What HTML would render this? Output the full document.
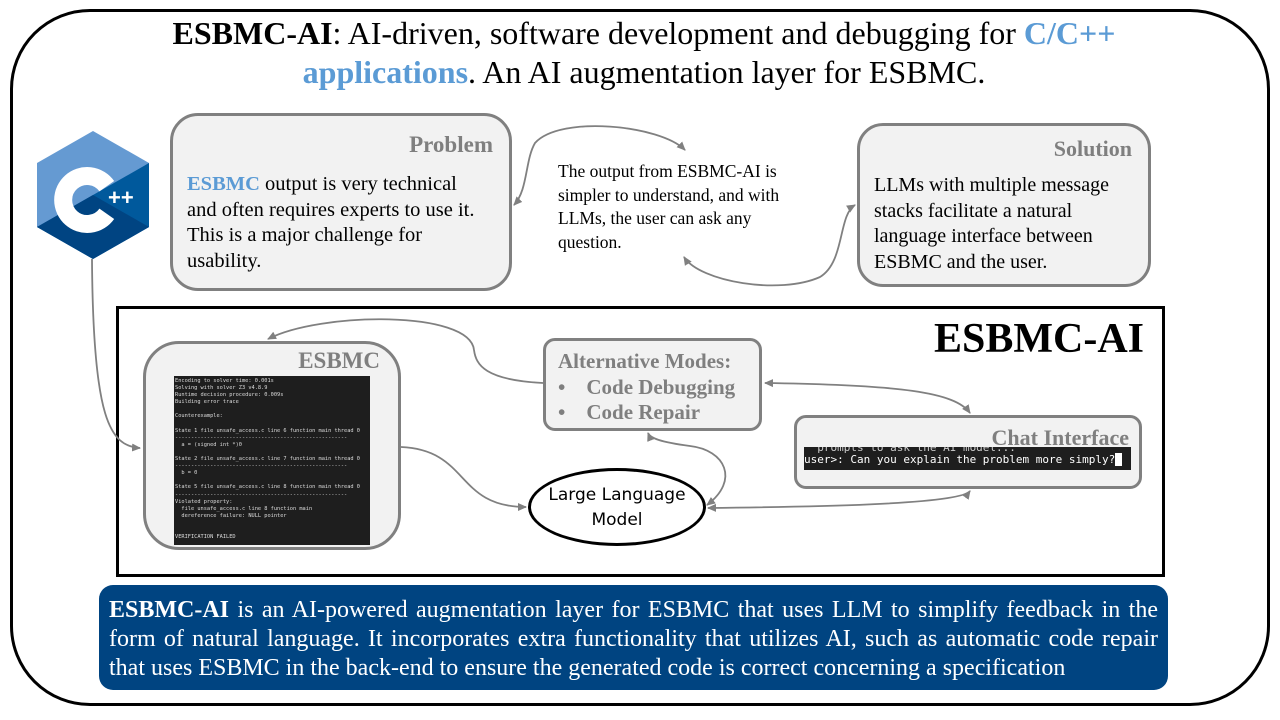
<!DOCTYPE html>
<html><head><meta charset="utf-8"><style>
*{margin:0;padding:0;box-sizing:border-box}
body{width:1280px;height:720px;background:#fff;position:relative;overflow:hidden;font-family:"Liberation Serif",serif;color:#000}
.a{position:absolute}
.box{position:absolute;background:#f2f2f2;border:3px solid #808080}
.gt{color:#7f7f7f;font-weight:bold}
.term{position:absolute;background:#1e1e1e;color:#ddd;font-family:"DejaVu Sans Mono",monospace;white-space:pre;overflow:hidden}
</style></head><body>
<div class="a" style="left:10px;top:9px;width:1260px;height:697px;border:3px solid #000;border-radius:80px"></div>
<div class="a" style="left:0;top:14px;width:1288px;text-align:center;font-size:32px;line-height:39px">
<b>ESBMC-AI</b>: AI-driven, software development and debugging for <b style="color:#5b9bd5">C/C++</b><br><b style="color:#5b9bd5">applications</b>. An AI augmentation layer for ESBMC.</div>

<svg class="a" style="left:36px;top:131px" width="114" height="128" viewBox="0 0 114 128">
<polygon points="57,0 113,32 113,96 57,128 1,96 1,32" fill="#659ad2"/>
<polygon points="113,32 113,96 57,128 1,96 57,64" fill="#00599c"/>
<polygon points="57,64 1,96 57,128 113,96" fill="#004482"/>
<path d="M70.8,55.2 A24,24 0 1 0 70.8,82.8" fill="none" stroke="#fff" stroke-width="18"/>
<text x="72" y="74" fill="#fff" font-family="Liberation Sans" font-weight="bold" font-size="22">++</text>
</svg>

<div class="box" style="left:170px;top:113px;width:342px;height:178px;border-radius:28px">
<div class="gt a" style="right:16px;top:16px;font-size:23px">Problem</div>
<div class="a" style="left:14px;top:56px;font-size:20.5px;line-height:25.5px;white-space:nowrap"><b style="color:#5b9bd5">ESBMC</b> output is very technical<br>and often requires experts to use it.<br>This is a major challenge for<br>usability.</div>
</div>
<div class="a" style="left:558px;top:160px;font-size:17.5px;line-height:23.5px;width:260px">The output from ESBMC-AI is simpler to understand, and with LLMs, the user can ask any question.</div>
<div class="box" style="left:857px;top:123px;width:294px;height:164px;border-radius:26px">
<div class="gt a" style="right:16px;top:10px;font-size:22px">Solution</div>
<div class="a" style="left:14px;top:47px;font-size:20px;line-height:25.5px;width:275px">LLMs with multiple message stacks facilitate a natural language interface between ESBMC and the user.</div>
</div>

<div class="a" style="left:116px;top:306px;width:1049px;height:271px;border:3px solid #000"></div>
<div class="a" style="right:136px;top:315px;font-size:42px;font-weight:bold">ESBMC-AI</div>

<div class="box" style="left:143px;top:341px;width:258px;height:209px;border-radius:36px">
<div class="gt a" style="right:18px;top:4px;font-size:23px">ESBMC</div>
</div>
<div class="term" style="left:174px;top:376px;width:196px;height:169px;font-size:5.3px;line-height:7.1px;padding:2px 1px">Encoding to solver time: 0.001s
Solving with solver Z3 v4.8.9
Runtime decision procedure: 0.009s
Building error trace

Counterexample:

State 1 file unsafe_access.c line 6 function main thread 0
------------------------------------------------------
  a = (signed int *)0

State 2 file unsafe_access.c line 7 function main thread 0
------------------------------------------------------
  b = 0

State 5 file unsafe_access.c line 8 function main thread 0
------------------------------------------------------
Violated property:
  file unsafe_access.c line 8 function main
  dereference failure: NULL pointer


VERIFICATION FAILED</div>

<div class="box" style="left:543px;top:338px;width:219px;height:93px;border-radius:12px">
<div class="gt a" style="left:12px;top:8px;font-size:21px;line-height:25.5px;white-space:nowrap">Alternative Modes:<br>•&nbsp;&nbsp;&nbsp;&nbsp;Code Debugging<br>•&nbsp;&nbsp;&nbsp;&nbsp;Code Repair</div>
</div>

<div class="box" style="left:794px;top:415px;width:348px;height:74px;border-radius:12px">
<div class="gt a" style="right:10px;top:7px;font-size:22px;line-height:26px">Chat Interface</div>
</div>
<div class="term" style="left:804px;top:447px;width:327px;height:23px;font-size:11px;line-height:12px;color:#fff"><div style="margin-top:-5px;color:#ccc">  prompts to ask the AI model...</div>user&gt;: Can you explain the problem more simply?<span style="background:#fff">&nbsp;</span></div>

<div class="a" style="left:528px;top:468px;width:178px;height:78px;border:3.5px solid #000;border-radius:50%;background:#fff;font-family:'DejaVu Sans',sans-serif;font-size:17px;line-height:25px;text-align:center;padding-top:12px">Large Language<br>Model</div>

<div class="a" style="left:99px;top:585px;width:1069px;height:105px;background:#004481;border-radius:14px;color:#fff;font-size:24px;line-height:29px;padding:11px 10px 0;text-align:justify;text-align-last:left">
<b>ESBMC-AI</b> is an AI-powered augmentation layer for ESBMC that uses LLM to simplify feedback in the form of natural language. It incorporates extra functionality that utilizes AI, such as automatic code repair that uses ESBMC in the back-end to ensure the generated code is correct concerning a specification</div>

<svg class="a" style="left:0;top:0" width="1280" height="720">
<defs><marker id="m" markerWidth="10" markerHeight="10" refX="8" refY="5" orient="auto-start-reverse" markerUnits="userSpaceOnUse"><path d="M0,1 L9,5 L0,9Z" fill="#808080"/></marker></defs>
<g fill="none" stroke="#808080" stroke-width="1.8">
<path d="M92,259 C93,420 110,446 140,448" marker-end="url(#m)"/>
<path d="M543,383 C485,380 476,365 474,350 C470,310 320,312 268,339" marker-end="url(#m)"/>
<path d="M401,447 C470,450 455,507 526,507" marker-end="url(#m)"/>
<path d="M707,505 C740,480 725,450 690,446 C660,442 650,438 648,433" marker-start="url(#m)" marker-end="url(#m)"/>
<path d="M765,383 C900,385 955,392 970,413" marker-start="url(#m)" marker-end="url(#m)"/>
<path d="M970,491 C960,505 800,507 708,508" marker-start="url(#m)" marker-end="url(#m)"/>
<path d="M514,205 C528,190 525,160 535,143 C560,115 660,125 685,150" marker-start="url(#m)" marker-end="url(#m)"/>
<path d="M855,205 C838,215 845,262 820,277 C780,295 700,282 684,257" marker-start="url(#m)" marker-end="url(#m)"/>
</g></svg>
</body></html>
